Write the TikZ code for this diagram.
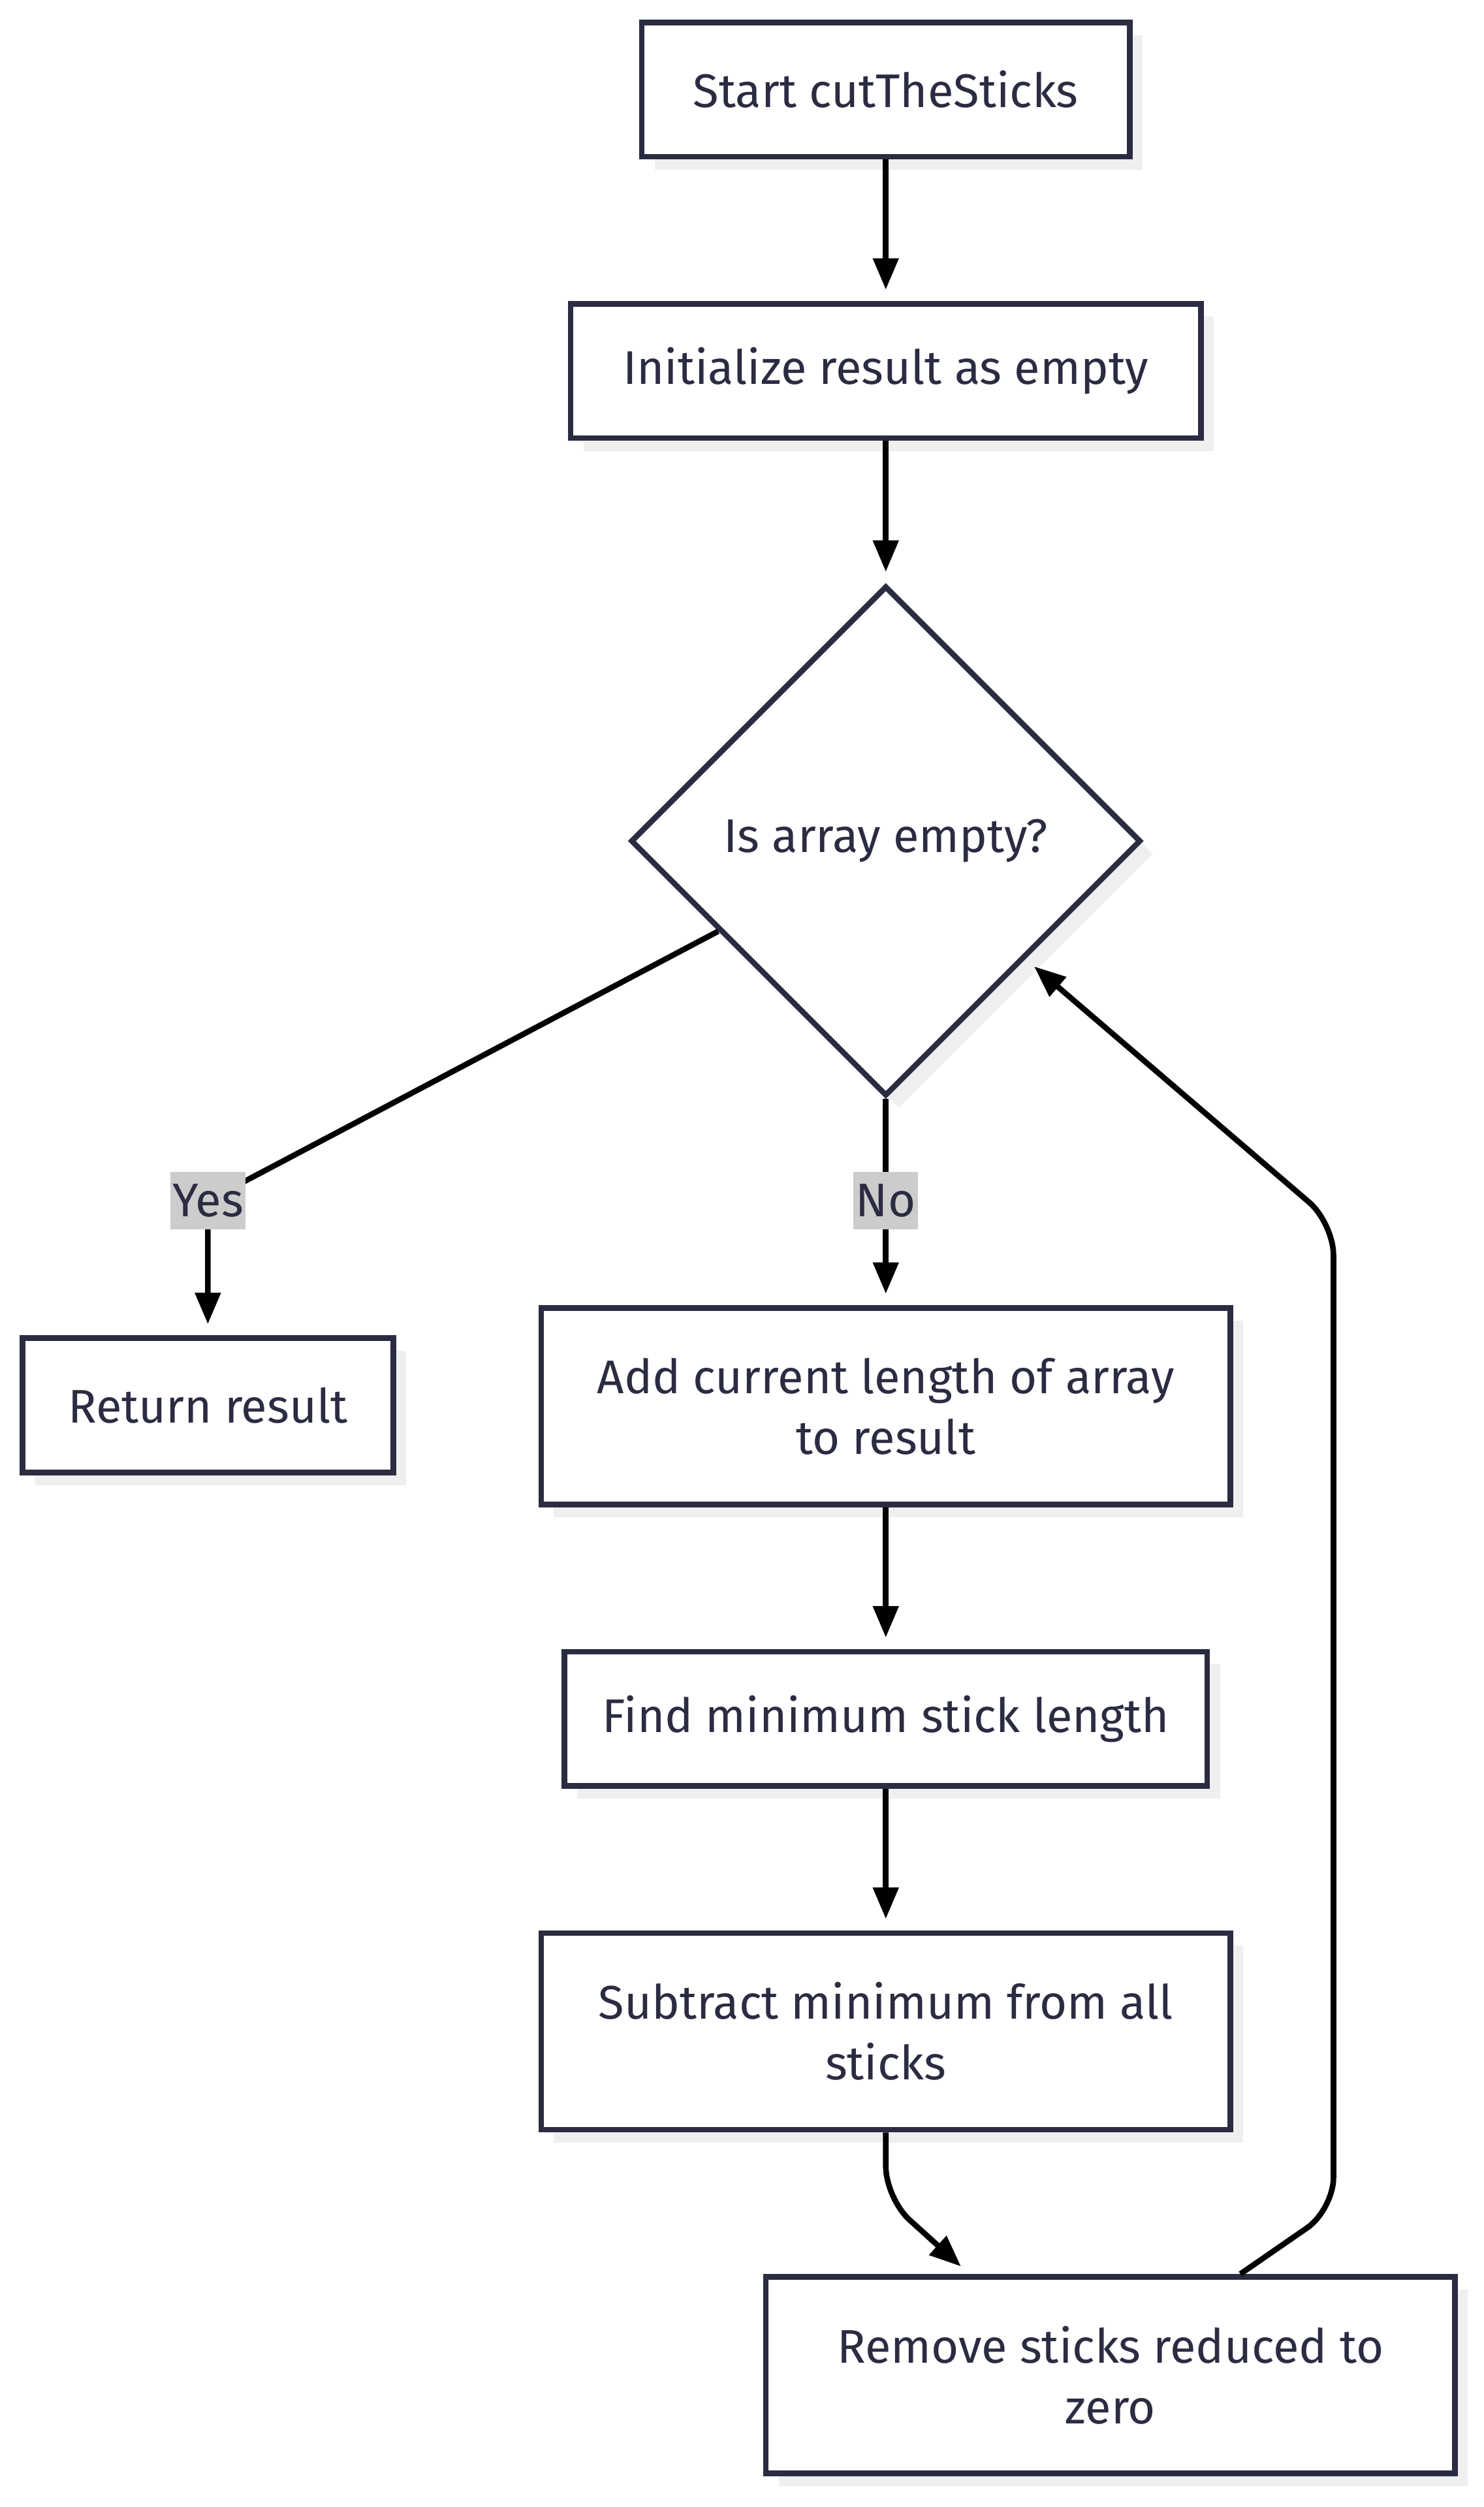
\documentclass[tikz,border=0pt]{standalone}
\usepackage{fontspec}
\setmainfont{Fira Sans}
\usetikzlibrary{shapes.geometric,arrows.meta,shadows,calc}

\definecolor{boxline}{HTML}{2B2B42}
\definecolor{shadowgray}{HTML}{EFEFEF}
\definecolor{labelgray}{HTML}{CCCCCC}

\begin{document}
\begin{tikzpicture}[x=0.025cm,y=-0.025cm,
  box/.style={draw=boxline,line width=2.5pt,fill=white,text=boxline,
    font=\fontsize{21}{27}\selectfont,align=center,inner sep=0pt,
    minimum height=2.1cm,
    drop shadow={shadow xshift=0.2cm,shadow yshift=-0.2cm,fill=shadowgray,opacity=1}},
  decide/.style={box,diamond,aspect=1,minimum width=7.975cm,minimum height=7.975cm},
  flow/.style={draw=black,line width=2.5pt,-{Triangle[length=14pt,width=11pt]},
    shorten >=5pt,rounded corners=0.5cm},
  tag/.style={fill=labelgray,text=boxline,font=\fontsize{21}{27}\selectfont,
    inner xsep=1pt,inner ysep=0pt,minimum height=0.9cm}]

\useasboundingbox (0,0) rectangle (928,1568);

% nodes
\node[box,minimum width=7.625cm] (start) at (554,56) {Start cutTheSticks};
\node[box,minimum width=9.85cm] (init) at (554,232) {Initialize result as empty};
\node[decide] (dec) at (554,526) {Is array empty?};
\node[box,minimum width=5.8cm] (ret) at (130,879) {Return result};
\node[box,minimum width=10.775cm,minimum height=3.075cm] (add) at (554,879.5)
  {Add current length of array\\to result};
\node[box,minimum width=10.05cm] (find) at (554,1075) {Find minimum stick length};
\node[box,minimum width=10.775cm,minimum height=3.075cm] (sub) at (554,1270.5)
  {Subtract minimum from all\\sticks};
\node[box,minimum width=10.775cm,minimum height=3.075cm] (rem) at (694.5,1485.5)
  {Remove sticks reduced to\\zero};

% connectors
\coordinate (yesturn) at (130,751);
\coordinate (noturn) at (554,751);
\draw[flow] (start) -- (init);
\draw[flow] (init) -- (dec);
\draw[flow,rounded corners=0pt] ($(dec.west)!0.35!(dec.south)$) -- (yesturn) -- (ret.north);
\draw[flow] (dec.south) -- (add.north);
\draw[flow] (add) -- (find);
\draw[flow] (find) -- (sub);
\draw[flow] (sub.south) -- (554,1375) -- ($(rem.north west)!0.297!(rem.north east)$);
\draw[flow] ($(rem.north west)!0.687!(rem.north east)$) -- (834,1382) -- (834,765)
  -- ($(dec.east)!0.458!(dec.south)$);

% labels
\node[tag] (yes) at (yesturn) {Yes};
\node[tag] (no) at (noturn) {No};

\end{tikzpicture}
\end{document}
